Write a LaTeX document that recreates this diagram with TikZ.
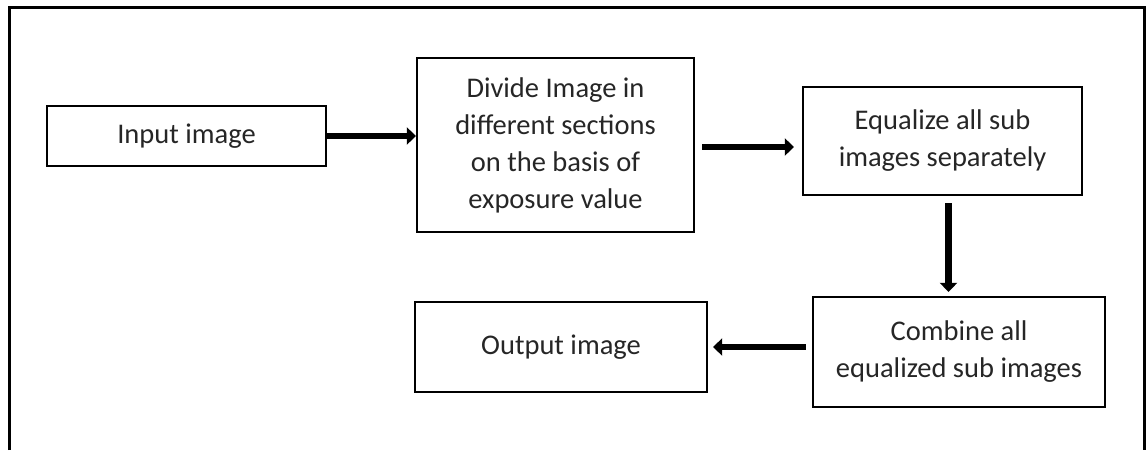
\documentclass[tikz,border=0pt]{standalone}
\usepackage{fontspec}
\setmainfont{Carlito}
\usepackage{tikz}
\usetikzlibrary{arrows.meta}

\begin{document}
\begin{tikzpicture}[x=1pt, y=-1pt,
    kasten/.style={draw=black, line width=2.2pt, inner sep=0pt, align=center,
        text=black!85, font=\fontsize{28.5}{37}\selectfont},
    pfeil/.style={line width=6.5pt, -{Triangle[length=9pt, width=17pt]}}]
    \useasboundingbox (0,0) rectangle (1148,450);
    % Rahmen.
    \draw[line width=3.5pt] (9.5,450) |- (1144.5,7.5) -- (1144.5,450);

    % Kaesten.
    \node[kasten, minimum width=279pt, minimum height=60pt] (input) at (186.5,136) {Input image};
    \node[kasten, minimum width=277pt, minimum height=174pt] (divide) at (555.5,145)
        {Divide Image in\\different sections\\on the basis of\\exposure value};
    \node[kasten, minimum width=279pt, minimum height=108pt] (equal) at (942.5,141)
        {Equalize all sub\\images separately};
    \node[kasten, minimum width=292pt, minimum height=110pt] (combine) at (959,352)
        {Combine all\\equalized sub images};
    \node[kasten, minimum width=292pt, minimum height=90pt] (output) at (561,347) {Output image};

    % Pfeile.
    \draw[pfeil] (input.east) -- (input.east -| divide.west);
    \draw[pfeil, shorten <=7pt, shorten >=8pt] ([yshift=-6pt]divide.east |- equal.west) -- ([yshift=-6pt]equal.west);
    \draw[pfeil, shorten <=7pt, shorten >=4pt] ([xshift=6pt]equal.south) -- ([xshift=6pt]equal.south |- combine.north);
    \draw[pfeil, shorten <=6pt, shorten >=5pt] (combine.west |- output.east) -- (output.east);
\end{tikzpicture}
\end{document}
